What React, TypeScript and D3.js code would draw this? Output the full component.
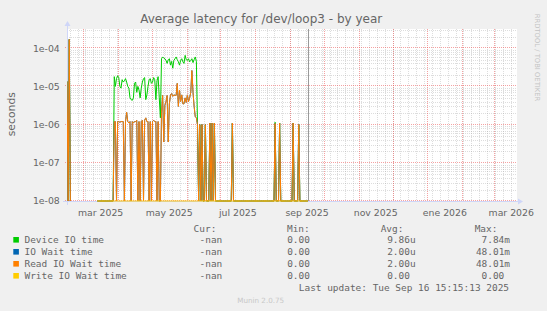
import React from 'react';
import * as d3 from 'd3';

// ---------- data ----------
const rangeStart = new Date(2025, 1, 14, 15, 15);
const rangeEnd = new Date(2026, 2, 21, 15, 15);
const lastUpdate = new Date(2025, 8, 16, 15, 15);
const firstSample = new Date(2025, 1, 14, 15, 15); // one sample per day, values in microseconds

const _ = null;
const deviceIOTime: (number | null)[] = [
  13.5, 0, 170, 0, _, _, _, _, _, _,
  _, _, _, _, _, _, _, _, _, _,
  _, _, _, _, _, _, _, 0, 0, 0,
  0, 0, 0, 0, 0, 0, 0, 0, 0, 0,
  0, 0, 18, 10, 16, 19, 17, 10, 9, 15,
  13, 14, 16, 13, 10, 9, 5, 4.5, 4.3, 5,
  12, 13, 7, 10, 8, 5, 9, 13, 16, 17,
  4.5, 6, 10, 15, 16, 12, 13, 17, 15, 4.5,
  14, 18, 5, 1.5, 53, 59, 55, 53, 48, 40,
  50, 53, 36, 45, 30, 48, 53, 59, 50, 44,
  36, 48, 53, 44, 40, 65, 50, 48, 53, 44,
  48, 53, 42, 50, 59, 45, 1.0, 0, 1.0, 0,
  1.0, 0, 0, 1.0, 0, 0, 0, 1.1, 0, 1.1,
  0, 1.1, 0, 0, 0, 0, 0, 0, 0, 0,
  0, 0, 0, 0, 0, 0, 0, 1.1, 0, 0,
  0, 0, 0, 0, 0, 0, 0, 0, 0, 0,
  0, 0, 0, 0, 0, 0, 0, 0, 0, 0,
  0, 0, 0, 0, 0, 0, 0, 0, 0, 0,
  0, 0, 0, 0, 0, 1.15, 0, 0, 0, 1.1,
  0, 0, 0, 0, 0, 0, 0, 0, 0, 0,
  0, 1.1, 0, 0, 0, 0, 1.0, 0, 0, 0,
  0, 0, 0, 0, 0,
];

const readIOWaitTime: (number | null)[] = [
  13.5, 0, 170, 0, _, _, _, _, _, _,
  _, _, _, _, _, _, _, _, _, _,
  _, _, _, _, _, _, _, 0, 0, 0,
  0, 0, 0, 0, 0, 0, 0, 0, 0, 0,
  0, 0, 1.2, 1.2, 0, 1.2, 1.2, 1.15, 1.2, 1.2,
  1.2, 0, 1.2, 2.1, 1.2, 1.1, 1.2, 0, 1.2, 1.1,
  1.2, 1.2, 1.3, 0, 1.2, 0, 1.2, 1.3, 0, 1.3,
  1.5, 1.2, 1.2, 0, 1.2, 0, 1.2, 1.3, 1.2, 1.2,
  0, 1.2, 0, 0, 2.1, 5.8, 0.35, 3.2, 4, 5.8,
  0.35, 3.5, 6, 6.5, 5.5, 6, 5.8, 5.8, 12, 3,
  8, 4, 6, 3.5, 3.5, 5, 3.8, 6, 4, 5,
  7, 26, 7, 3, 1.6, 1.5, 1.0, 0, 1.0, 0,
  1.0, 0, 0, 1.0, 0, 0, 0, 1.1, 0, 1.1,
  0, 1.1, 0, 0, 0, 0, 0, 0, 0, 0,
  0, 0, 0, 0, 0, 0, 0, 1.1, 0, 0,
  0, 0, 0, 0, 0, 0, 0, 0, 0, 0,
  0, 0, 0, 0, 0, 0, 0, 0, 0, 0,
  0, 0, 0, 0, 0, 0, 0, 0, 0, 0,
  0, 0, 0, 0, 0, 1.07, 0, 0, 0, 1.1,
  0, 0, 0, 0, 0, 0, 0, 0, 0, 0,
  0, 1.1, 0, 0, 0, 0, 1.0, 0, 0, 0,
  0, 0, 0, 0, 0,
];

// IO wait time has the same values as read IO wait time (same avg / max in legend)
const ioWaitTime: (number | null)[] = readIOWaitTime;

const writeIOWaitTime: (number | null)[] = [
  _, _, _, _, _, _, _, _, _, _,
  _, _, _, _, _, _, _, _, _, _,
  _, _, _, _, _, _, _, 0, 0, 0,
  0, 0, 0, 0, 0, 0, 0, 0, 0, 0,
  0, 0, 0, 0, 0, 0, 0, 0, 0, 0,
  0, 0, 0, 0, 0, 0, 0, 0, 0, 0,
  0, 0, 0, 0, 0, 0, 0, 0, 0, 0,
  0, 0, 0, 0, 0, 0, 0, 0, 0, 0,
  0, 0, 0, 0, 0, 0, 0, 0, 0, 0,
  0, 0, 0, 0, 0, 0, 0, 0, 0, 0,
  0, 0, 0, 0, 0, 0, 0, 0, 0, 0,
  0, 0, 0, 0, 0, 0, 0, 0, 0, 0,
  0, 0, 0, 0, 0, 0, 0, 0, 0, 0,
  0, 0, 0, 0, 0, 0, 0, 0, 0, 0,
  0, 0, 0, 0, 0, 0, 0, 0, 0, 0,
  0, 0, 0, 0, 0, 0, 0, 0, 0, 0,
  0, 0, 0, 0, 0, 0, 0, 0, 0, 0,
  0, 0, 0, 0, 0, 0, 0, 0, 0, 0,
  0, 0, 0, 0, 0, 0, 0, 0, 0, 0,
  0, 0, 0, 0, 0, 0, 0, 0, 0, 0,
  0, 0, 0, 0, 0, 0, 0, 0, 0, 0,
  0, 0, 0, 0, 0,
];

const yTickValues = [1e-8, 1e-7, 1e-6, 1e-5, 1e-4];
const yTickLabels = ['1e-08', '1e-07', '1e-06', '1e-05', '1e-04'];

const xLabelMonths = [
  new Date(2025, 2, 1), new Date(2025, 4, 1), new Date(2025, 6, 1), new Date(2025, 8, 1),
  new Date(2025, 10, 1), new Date(2026, 0, 1), new Date(2026, 2, 1),
];
const xLabelTexts = ['mar 2025', 'may 2025', 'jul 2025', 'sep 2025', 'nov 2025', 'ene 2026', 'mar 2026'];

const seriesNames = ['Device IO time', 'IO Wait time', 'Read IO Wait time', 'Write IO Wait time'];
const seriesColors = ['#00cc00', '#0066b3', '#ff8000', '#ffcc00'];
const seriesData = [deviceIOTime, ioWaitTime, readIOWaitTime, writeIOWaitTime];
const curValues = ['-nan', '-nan', '-nan', '-nan'];
const minValues = ['0.00', '0.00', '0.00', '0.00'];
const avgValues = ['9.86u', '2.00u', '2.00u', '0.00'];
const maxValues = ['7.84m', '48.01m', '48.01m', '0.00'];

const titleText = 'Average latency for /dev/loop3 - by year';
const yAxisTitle = 'seconds';
const lastUpdateText = 'Last update: Tue Sep 16 15:15:13 2025';
const muninText = 'Munin 2.0.75';
const rrdText = 'RRDTOOL / TOBI OETIKER';

// ---------- layout ----------
const W = 547;
const H = 311;
const PL = 67;
const PR = 517;
const PT = 29;
const PB = 201;
const PX_PER_DECADE = 38.2;

const SANS = '"DejaVu Sans", Verdana, sans-serif';
const MONO = '"DejaVu Sans Mono", monospace';
const FONT = '#666666';
const AXIS = '#cfd6f8';
const GRID = 'rgba(150,150,150,0.32)';
const MGRID = 'rgba(235,70,70,0.5)';

export default function App() {
  const yTop = Math.pow(10, -8 + (PB - PT) / PX_PER_DECADE);
  const x = d3.scaleTime().domain([rangeStart, rangeEnd]).range([PL, PR]);
  const y = d3.scaleLog().domain([1e-8, yTop]).range([PB, PT]);

  const dayMs = 864e5;
  const sampleDate = (i: number) => new Date(firstSample.getTime() + i * dayMs);
  const yPos = (v: number) => (v <= 0 ? PB : y(v * 1e-6));

  const line = d3
    .line<number | null>()
    .defined((v) => v !== null)
    .x((_v, i) => x(sampleDate(i)))
    .y((v) => yPos(v as number));

  const minorY: number[] = [];
  for (let e = -8; e <= -4; e++) {
    for (let m = 2; m <= 9; m++) {
      const v = m * Math.pow(10, e);
      if (v <= yTop * 1.001) minorY.push(v);
    }
  }
  const months = d3.timeMonth.range(rangeStart, rangeEnd);
  const weeks = d3.timeMonday.range(rangeStart, rangeEnd);

  const colCurEnd = 222.3;
  const colMinEnd = 315.6;
  const colAvgEnd = 415.6;
  const colMaxEnd = 510;
  const charW = 5.69;
  const endFor = (colEnd: number, s: string) => (/[a-z]$/.test(s) && s !== '-nan' ? colEnd : colEnd - charW);

  return (
    <svg
      width={W}
      height={H}
      viewBox={`0 0 ${W} ${H}`}
      style={{ position: 'absolute', left: 0, top: 0, display: 'block' }}
      xmlns="http://www.w3.org/2000/svg"
    >
      <defs>
        <clipPath id="plotClip">
          <rect x={PL} y={PT - 1} width={PR - PL} height={PB - PT + 2} />
        </clipPath>
      </defs>
      <rect x={0} y={0} width={W} height={H} fill="#f0f0f0" />
      <rect x={PL} y={PT} width={PR - PL} height={PB - PT} fill="#ffffff" />

      {/* minor grid */}
      <g stroke={GRID} strokeWidth={1} strokeDasharray="1,1" shapeRendering="crispEdges">
        {minorY.map((v, i) => (
          <line key={'my' + i} x1={PL} x2={PR} y1={Math.round(y(v)) + 0.5} y2={Math.round(y(v)) + 0.5} />
        ))}
        {weeks.map((d, i) => (
          <line key={'mx' + i} x1={Math.round(x(d)) + 0.5} x2={Math.round(x(d)) + 0.5} y1={PT} y2={PB} />
        ))}
      </g>
      {/* major grid */}
      <g stroke={MGRID} strokeWidth={1} strokeDasharray="1,1" shapeRendering="crispEdges">
        {yTickValues.map((v, i) => (
          <line key={'My' + i} x1={PL - 2} x2={PR} y1={Math.round(y(v)) - 0.5} y2={Math.round(y(v)) - 0.5} />
        ))}
        {months.map((d, i) => (
          <line key={'Mx' + i} x1={Math.round(x(d)) + 0.5} x2={Math.round(x(d)) + 0.5} y1={PT} y2={PB + 2} />
        ))}
      </g>

      {/* axes */}
      <g shapeRendering="crispEdges" stroke={AXIS} strokeWidth={1}>
        <line x1={PL - 4} x2={PR + 1} y1={PB + 0.5} y2={PB + 0.5} />
        <line x1={PL + 0.5} x2={PL + 0.5} y1={PB + 4} y2={PT - 3} />
      </g>
      <path d={`M${PR + 1},${PB - 2.5} L${PR + 6},${PB + 0.5} L${PR + 1},${PB + 3.5} Z`} fill={AXIS} />
      <path d={`M${PL - 2.5},${PT - 3} L${PL + 0.5},${PT - 8} L${PL + 3.5},${PT - 3} Z`} fill={AXIS} />

      {/* now marker */}
      <line
        x1={Math.round(x(lastUpdate)) + 0.5}
        x2={Math.round(x(lastUpdate)) + 0.5}
        y1={PT}
        y2={PB}
        stroke="#9a9a9a"
        strokeWidth={1}
        shapeRendering="crispEdges"
      />

      {/* series */}
      <g clipPath="url(#plotClip)" fill="none" strokeWidth={1} strokeLinejoin="miter">
        {seriesData.map((s, i) => (
          <path key={'s' + i} d={line(s) || ''} stroke={seriesColors[i]} />
        ))}
      </g>

      {/* title */}
      <text x={261.2} y={23.3} textAnchor="middle" fontFamily={SANS} fontSize={12} fill={FONT}>
        {titleText}
      </text>

      {/* y tick labels */}
      <g fontFamily={SANS} fontSize={9.33} fill={FONT} textAnchor="end">
        {yTickValues.map((v, i) => (
          <text key={'yl' + i} x={59.8} y={y(v) + 3.4}>
            {yTickLabels[i]}
          </text>
        ))}
      </g>
      <text
        transform={`translate(15,114.2) rotate(-90)`}
        textAnchor="middle"
        fontFamily={SANS}
        fontSize={10.8}
        fill={FONT}
      >
        {yAxisTitle}
      </text>

      {/* x tick labels, centred in their month */}
      <g fontFamily={SANS} fontSize={9.33} fill={FONT} textAnchor="middle">
        {xLabelMonths.map((d, i) => {
          const next = d3.timeMonth.offset(d, 1);
          const cx = (x(d) + x(next)) / 2;
          return (
            <text key={'xl' + i} x={cx} y={215.5}>
              {xLabelTexts[i]}
            </text>
          );
        })}
      </g>

      {/* legend */}
      <g fontFamily={MONO} fontSize={9.45} fill={FONT}>
        <text x={193.6} y={231.5}>Cur:</text>
        <text x={287} y={231.5}>Min:</text>
        <text x={380.7} y={231.5}>Avg:</text>
        <text x={474.7} y={231.5}>Max:</text>
        {seriesNames.map((n, i) => {
          const by = 243.3 + i * 12;
          return (
            <g key={'lg' + i}>
              <rect x={13.3} y={by - 6.3} width={5.6} height={5.6} fill={seriesColors[i]} />
              <text x={24.5} y={by}>{n}</text>
              <text x={colCurEnd} y={by} textAnchor="end">{curValues[i]}</text>
              <text x={endFor(colMinEnd, minValues[i])} y={by} textAnchor="end">{minValues[i]}</text>
              <text x={endFor(colAvgEnd, avgValues[i])} y={by} textAnchor="end">{avgValues[i]}</text>
              <text x={endFor(colMaxEnd, maxValues[i])} y={by} textAnchor="end">{maxValues[i]}</text>
            </g>
          );
        })}
        <text x={509} y={291.3} textAnchor="end">{lastUpdateText}</text>
      </g>
      <text x={260.7} y={303.2} textAnchor="middle" fontFamily={SANS} fontSize={7.2} fill="#c8c8c8">
        {muninText}
      </text>
      <text
        transform={`translate(535.4,57.5) rotate(90)`}
        textAnchor="middle"
        fontFamily={SANS}
        fontSize={6.8}
        fill="#c4c4c4"
      >
        {rrdText}
      </text>
    </svg>
  );
}
